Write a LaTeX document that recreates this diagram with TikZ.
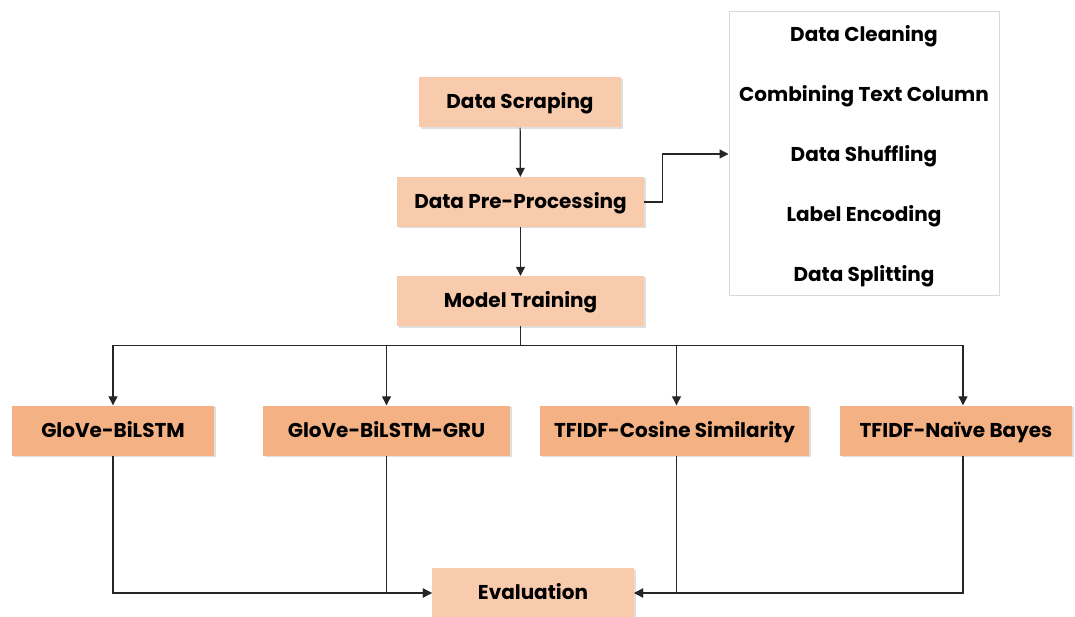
\documentclass[tikz,border=0pt]{standalone}
\usepackage{fontspec}
\setmainfont{Poppins}
\usetikzlibrary{arrows.meta,shadows}
\definecolor{lightpeach}{HTML}{F8CBAD}
\definecolor{darkpeach}{HTML}{F4B183}
\definecolor{listborder}{HTML}{D9D9D9}
\begin{document}
\begin{tikzpicture}[x=1pt,y=-1pt,
  basebox/.style={draw=none, inner sep=0pt, minimum height=50pt,
    text height=15pt, text depth=2pt,
    font=\fontsize{20}{23}\selectfont\bfseries,
    drop shadow={shadow xshift=1.5pt, shadow yshift=-1.5pt, opacity=0.25, fill=gray}},
  lbox/.style={basebox, fill=lightpeach},
  dbox/.style={basebox, fill=darkpeach},
  item/.style={inner sep=0pt, text height=15pt, text depth=2pt, font=\fontsize{20}{23}\selectfont\bfseries},
  arr/.style={draw=black!85, line width=1.2pt, -{Triangle[length=9pt,width=9pt]}},
  ln/.style={draw=black!85, line width=1.2pt}
]
\useasboundingbox (0,0) rectangle (1075,617);
\fill[white] (0,0) rectangle (1075,617);

\node[lbox, minimum width=202pt] (ds) at (520,102.5) {Data Scraping};
\node[lbox, minimum width=247pt] (pp) at (520.5,202) {Data Pre-Processing};
\node[lbox, minimum width=247pt] (mt) at (520.5,301) {Model Training};

\node[draw=listborder, line width=1pt, fill=white, minimum width=270pt, minimum height=284pt, inner sep=0pt] (list) at (864,154) {};
\node[item] (i1) at (864,35) {Data Cleaning};
\node[item] (i2) at (864,95) {Combining Text Column};
\node[item] (i3) at (864,155) {Data Shuffling};
\node[item] (i4) at (864,215) {Label Encoding};
\node[item] (i5) at (864,275) {Data Splitting};

\node[dbox, minimum width=202pt] (g1) at (113,430.5) {GloVe-BiLSTM};
\node[dbox, minimum width=247pt] (g2) at (386.5,430.5) {GloVe-BiLSTM-GRU};
\node[dbox, minimum width=269pt] (cs) at (674.5,430.5) {TFIDF-Cosine Similarity};
\node[dbox, minimum width=232pt] (nb) at (956,430.5) {TFIDF-Naïve Bayes};

\node[lbox, minimum width=202pt] (ev) at (533,593) {Evaluation};

\draw[arr] (ds) -- (pp);
\draw[arr] (pp) -- (mt);
\draw[arr] (pp.east) -- ++(18,0) |- (list.west);

\draw[ln] (mt.south) -- ++(0,19) coordinate (bus);
\draw[arr] (bus) -| (g1.north);
\draw[arr] (bus) -| (g2.north);
\draw[arr] (bus) -| ([xshift=2pt]cs.north);
\draw[arr] (bus) -| ([xshift=7pt]nb.north);

\draw[arr] (g1.south) |- (ev.west);
\draw[arr] (g2.south) |- (ev.west);
\draw[arr] ([xshift=2pt]cs.south) |- (ev.east);
\draw[arr] ([xshift=7pt]nb.south) |- (ev.east);
\end{tikzpicture}
\end{document}
